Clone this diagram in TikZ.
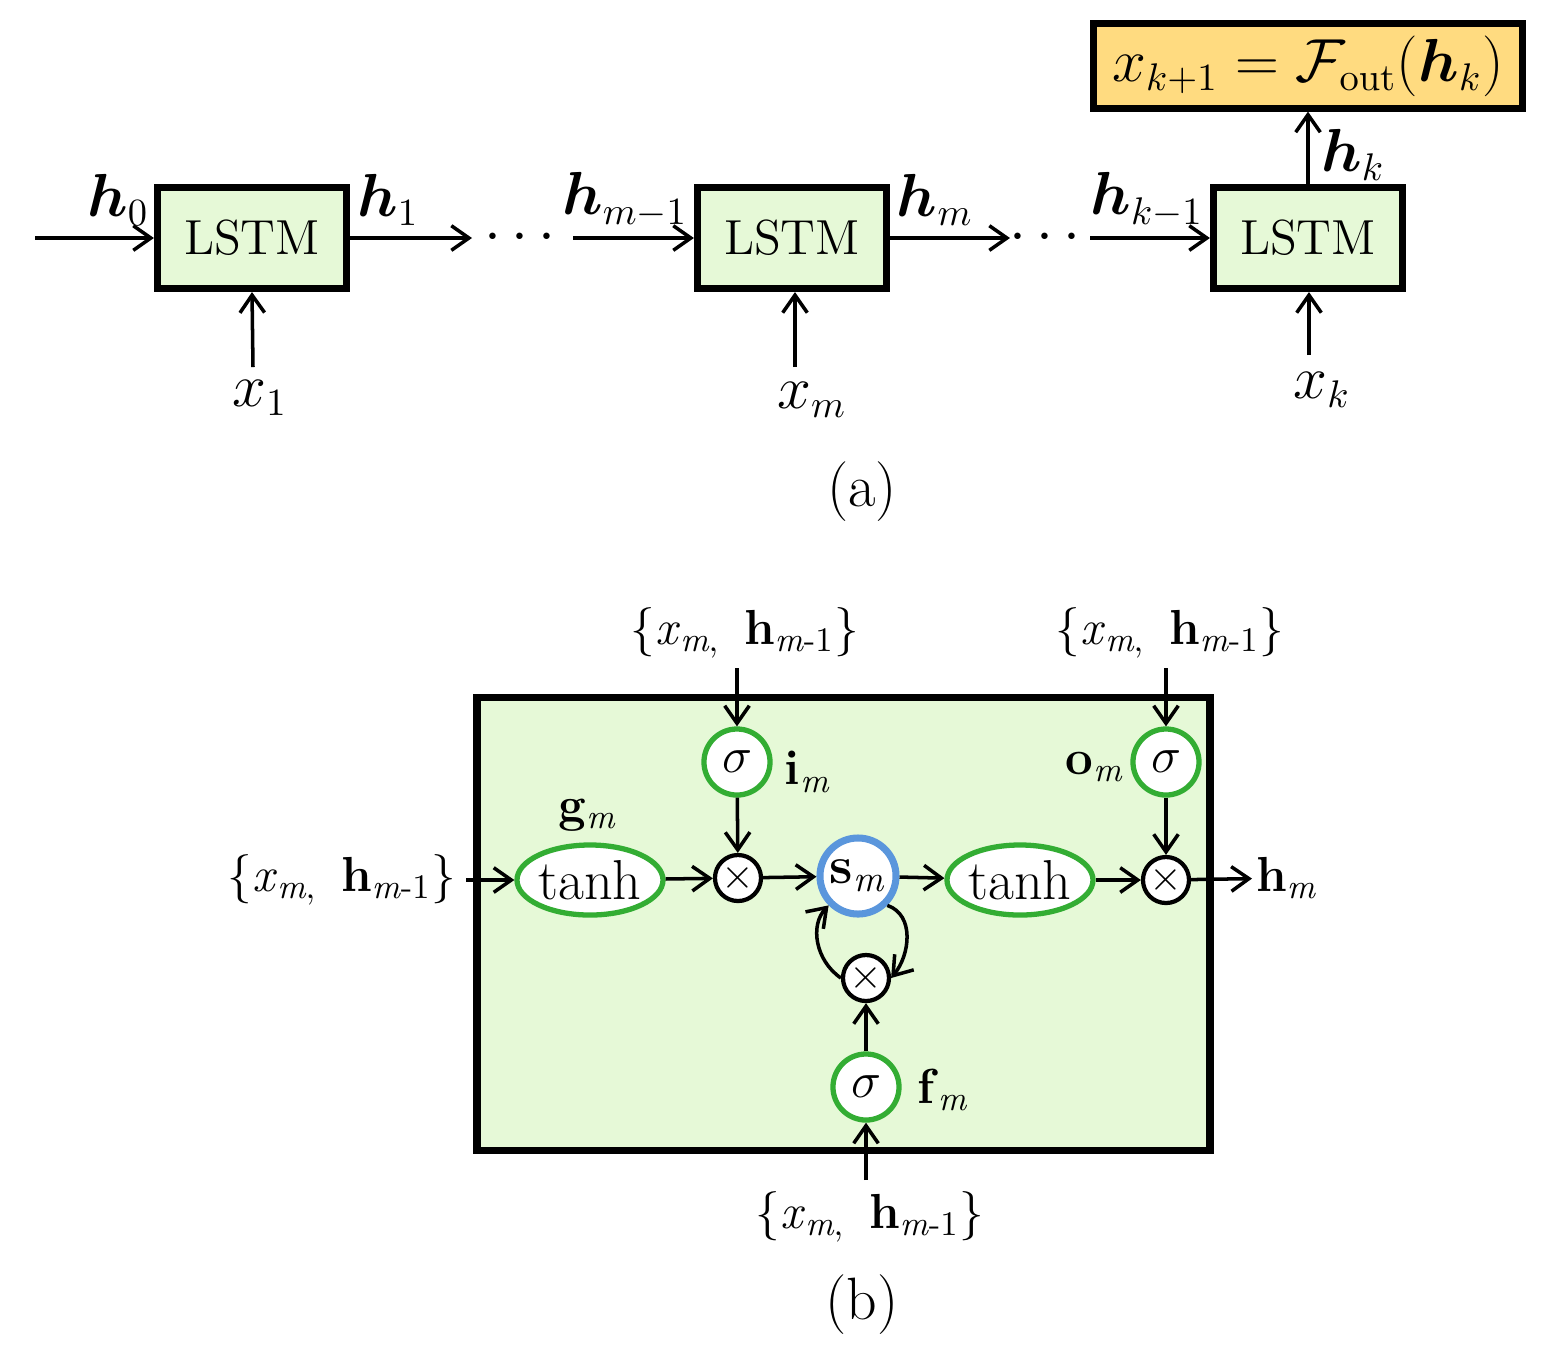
\documentclass[tikz,border=0pt]{standalone}
\usepackage{amsmath,amssymb,bm}
\usetikzlibrary{arrows.meta,shapes.geometric}
\begin{document}
\begin{tikzpicture}[x=0.01cm,y=-0.01cm,
  arr/.style={-{Straight Barb[length=5pt,width=7pt]},line width=1pt},
  lstm/.style={draw,line width=2pt,fill={rgb,255:red,230;green,249;blue,215},minimum width=1.89cm,minimum height=1.01cm,font=\fontsize{14}{16}\selectfont},
  lab/.style={font=\fontsize{16}{18}\selectfont},
  bl/.style={font=\fontsize{14}{16}\selectfont},
  sig/.style={circle,draw=green!60!black!80,line width=1.5pt,fill=white,minimum size=0.66cm,inner sep=0pt,font=\fontsize{15}{18}\selectfont},
  th/.style={ellipse,draw=green!60!black!80,line width=1.5pt,fill=white,minimum width=1.3cm,minimum height=0.7cm,inner sep=0pt,font=\fontsize{16}{18}\selectfont},
  ot/.style={circle,draw,line width=1.2pt,fill=white,minimum size=0.46cm,inner sep=0pt,font=\fontsize{13}{15}\selectfont}]
\useasboundingbox (0,0) rectangle (1553,1356);
% (a)
\node[lstm] (L1) at (252,238) {LSTM};
\node[lstm] (L2) at (792,238) {LSTM};
\node[lstm] (L3) at (1308,238) {LSTM};
\node[draw,line width=2pt,fill={rgb,255:red,255;green,219;blue,128},minimum width=4.28cm,minimum height=0.83cm,font=\fontsize{16}{18}\selectfont] (out) at (1308,66) {$x_{k+1}=\mathcal{F}_{\mathrm{out}}(\bm{h}_k)$};
\coordinate (s0) at (35,238);
\coordinate (e1) at (472,238);
\coordinate (s2) at (573,238);
\coordinate (e2) at (1010,238);
\coordinate (s3) at (1090,238);
\node[lab] (d1) at (525,238) {$\cdots$};
\node[lab] (d2) at (1050,238) {$\cdots$};
\draw[arr] (s0) -- (L1);
\draw[arr] (L1) -- (e1);
\draw[arr] (s2) -- (L2);
\draw[arr] (L2) -- (e2);
\draw[arr] (s3) -- (L3);
\draw[arr] (L3) -- (out);
\node[lab] (x1) at (260,398) {$x_1$};
\node[lab] (xm) at (812,400) {$x_m$};
\node[lab] (xk) at (1322,390) {$x_k$};
\coordinate (c1) at (253,367); \coordinate (c2) at (795,367); \coordinate (c3) at (1309,355);
\draw[arr] (c1) -- (L1.south);
\draw[arr] (c2) -- (L2.south-|c2);
\draw[arr] (c3) -- (L3.south-|c3);
\node[lab] at (118,200) {$\bm{h}_0$};
\node[lab] at (388,200) {$\bm{h}_1$};
\node[lab] at (625,200) {$\bm{h}_{m-1}$};
\node[lab] at (935,200) {$\bm{h}_m$};
\node[lab] at (1147,200) {$\bm{h}_{k-1}$};
\node[lab] at (1353,155) {$\bm{h}_k$};
\node[font=\fontsize{17}{20}\selectfont] (ta) at (862,492) {(a)};
% (b)
\draw[line width=2pt,fill={rgb,255:red,230;green,249;blue,215}] (477,697) rectangle (1210,1150);
\node[sig] (si) at (737,762) {$\sigma$};
\node[sig] (so) at (1166,762) {$\sigma$};
\node[sig] (sf) at (866,1087) {$\sigma$};
\node[th] (g) at (590,880) {tanh};
\node[th] (t2) at (1020,880) {tanh};
\node[circle,draw={rgb,255:red,90;green,150;blue,220},line width=2pt,fill=white,minimum size=0.76cm,inner sep=0pt,font=\fontsize{15}{18}\selectfont] (s) at (858,876) {\textbf{s}\textsubscript{\textit{m}}};
\node[ot] (o1) at (738,878) {$\times$};
\node[ot] (o2) at (1166,880) {$\times$};
\node[ot] (o3) at (866,978) {$\times$};
\newcommand{\xin}{\{\textit{x}\textsubscript{\textit{m},}\,\ \textbf{h}\textsubscript{\textit{m}-1}\}}
\node[bl] (in1) at (745,633) {\xin};
\node[bl] (in2) at (1170,633) {\xin};
\node[bl] (in3) at (342,880) {\xin};
\node[bl] (in4) at (870,1217) {\xin};
\node[bl,anchor=west,inner sep=1pt] (hm) at (1252,878) {\textbf{h}\textsubscript{\textit{m}}};
\coordinate (a1) at (737,668); \coordinate (a2) at (1166,668);
\coordinate (a3) at (466,880); \coordinate (a4) at (866,1180);
\draw[arr] (a1) -- (si);
\draw[arr] (a2) -- (so);
\draw[arr] (a3) -- (g);
\draw[arr] (a4) -- (sf);
\draw[arr] (o2) -- (hm);
\draw[arr] (si) -- (o1);
\draw[arr] (g) -- (o1);
\draw[arr] (o1) -- (s);
\draw[arr] (s) -- (t2);
\draw[arr] (t2) -- (o2);
\draw[arr] (so) -- (o2);
\draw[arr] (sf) -- (o3);
\draw[arr] (s.south east) .. controls (915,915) and (910,955) .. (o3.east);
\draw[arr] (o3.west) .. controls (815,960) and (810,925) .. (s.south west);
\node[bl] at (808,772) {\textbf{i}\textsubscript{\textit{m}}};
\node[bl] at (1095,767) {\textbf{o}\textsubscript{\textit{m}}};
\node[bl] at (588,815) {\textbf{g}\textsubscript{\textit{m}}};
\node[bl] at (943,1090) {\textbf{f}\textsubscript{\textit{m}}};
\node[font=\fontsize{17}{20}\selectfont] (tb) at (862,1305) {(b)};
\end{tikzpicture}
\end{document}
